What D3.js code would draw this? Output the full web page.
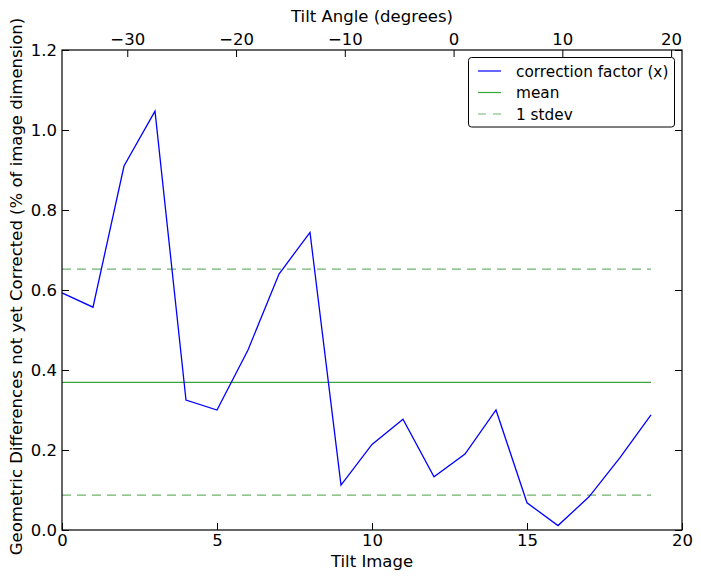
<!DOCTYPE html>
<html>
<head>
<meta charset="utf-8">
<script src="https://cdn.jsdelivr.net/npm/d3@7"></script>
<style>
  html, body { margin: 0; padding: 0; background: #fff; }
  svg { display: block; font-family: "DejaVu Sans", sans-serif; }
</style>
</head>
<body>
<svg id="chart" width="701" height="579"></svg>
<script>
// ---- data ----
const tiltImages = [0,1,2,3,4,5,6,7,8,9,10,11,12,13,14,15,16,17,18,19];
const correctionFactor = [0.593, 0.557, 0.910, 1.047, 0.325, 0.300, 0.450, 0.640, 0.744,
  0.112, 0.214, 0.277, 0.133, 0.190, 0.300, 0.068, 0.011, 0.083, 0.181, 0.288];
const meanValue = 0.369;
const stdevLow = 0.087;
const stdevHigh = 0.652;
const xTicks = [0, 5, 10, 15, 20];
const yTicks = [0.0, 0.2, 0.4, 0.6, 0.8, 1.0, 1.2];
const angleDomain = [-36, 21];
const angleTicks = [-30, -20, -10, 0, 10, 20];
const legendLabels = ["correction factor (x)", "mean", "1 stdev"];

// ---- layout ----
const svg = d3.select("#chart");
const L = 62, R = 682, T = 50, B = 530;
const tickLen = 7;
const fs = 16.5;

const x = d3.scaleLinear().domain([0, 20]).range([L, R]);
const y = d3.scaleLinear().domain([0, 1.2]).range([B, T]);
const xTop = d3.scaleLinear().domain(angleDomain).range([L, R]);

const blue = "#0000ff";
const meanColor = "#3aa53a";
const sdColor = "#6fb36f";

// lines
const plot = svg.append("g");
const xmin = d3.min(tiltImages), xmax = d3.max(tiltImages);
[stdevHigh, stdevLow].forEach(v => {
  plot.append("line")
    .attr("x1", x(xmin)).attr("x2", x(xmax))
    .attr("y1", y(v)).attr("y2", y(v))
    .attr("stroke", sdColor).attr("stroke-width", 1.2)
    .attr("stroke-dasharray", "9,6");
});
plot.append("line")
  .attr("x1", x(xmin)).attr("x2", x(xmax))
  .attr("y1", y(meanValue)).attr("y2", y(meanValue))
  .attr("stroke", meanColor).attr("stroke-width", 1.2);

const line = d3.line().x((d, i) => x(tiltImages[i])).y(d => y(d));
plot.append("path")
  .datum(correctionFactor)
  .attr("d", line)
  .attr("fill", "none")
  .attr("stroke", blue)
  .attr("stroke-width", 1.3)
  .attr("stroke-linejoin", "miter");

// axes (inward ticks, matplotlib classic)
function styleAxis(g) {
  g.select(".domain").remove();
  g.selectAll(".tick line").attr("stroke", "#000").attr("stroke-width", 1);
  g.selectAll(".tick text").attr("fill", "#000").attr("font-size", fs)
    .attr("font-family", "DejaVu Sans, sans-serif");
}

const fmtX = d3.format("d");
const fmtY = d3.format(".1f");
const fmtA = d => (d < 0 ? "\u2212" + Math.abs(d) : String(d));

// bottom
svg.append("g").attr("transform", `translate(0,${B})`)
  .call(d3.axisBottom(x).tickValues(xTicks).tickFormat(fmtX).tickSizeInner(-tickLen).tickSizeOuter(0).tickPadding(4))
  .call(styleAxis);
// left
svg.append("g").attr("transform", `translate(${L},0)`)
  .call(d3.axisLeft(y).tickValues(yTicks).tickFormat(fmtY).tickSizeInner(-tickLen).tickSizeOuter(0).tickPadding(5))
  .call(styleAxis);
// right (ticks only)
svg.append("g").attr("transform", `translate(${R},0)`)
  .call(d3.axisRight(y).tickValues(yTicks).tickFormat("").tickSizeInner(-tickLen).tickSizeOuter(0))
  .call(styleAxis);
// top (tilt angle)
svg.append("g").attr("transform", `translate(0,${T})`)
  .call(d3.axisTop(xTop).tickValues(angleTicks).tickFormat(fmtA).tickSizeInner(-tickLen).tickSizeOuter(0).tickPadding(5))
  .call(styleAxis);

// frame
svg.append("rect")
  .attr("x", L).attr("y", T).attr("width", R - L).attr("height", B - T)
  .attr("fill", "none").attr("stroke", "#000").attr("stroke-width", 1.2);

// axis titles
svg.append("text").attr("x", (L + R) / 2).attr("y", 567)
  .attr("text-anchor", "middle").attr("font-size", fs).text("Tilt Image");
svg.append("text").attr("x", (L + R) / 2).attr("y", 22)
  .attr("text-anchor", "middle").attr("font-size", fs).text("Tilt Angle (degrees)");
svg.append("text")
  .attr("transform", `translate(22,${(T + B) / 2 - 3.5}) rotate(-90)`)
  .attr("text-anchor", "middle").attr("font-size", fs)
  .text("Geometric Differences not yet Corrected (% of image dimension)");

// legend
const lg = svg.append("g");
lg.append("rect")
  .attr("x", 468.5).attr("y", 57.5).attr("width", 206).attr("height", 69.5)
  .attr("rx", 3).attr("ry", 3)
  .attr("fill", "#fff").attr("stroke", "#000").attr("stroke-width", 1);
const legendStyles = [
  { color: blue, dash: null },
  { color: meanColor, dash: null },
  { color: sdColor, dash: "8,7" }
];
legendLabels.forEach((lab, i) => {
  const yy = 71 + i * 21.5;
  lg.append("line")
    .attr("x1", 478).attr("x2", 501).attr("y1", yy).attr("y2", yy)
    .attr("stroke", legendStyles[i].color).attr("stroke-width", 1.2)
    .attr("stroke-dasharray", legendStyles[i].dash);
  lg.append("text").attr("x", 516).attr("y", yy + 5.5)
    .attr("font-size", 15.3).text(lab);
});
</script>
</body>
</html>
